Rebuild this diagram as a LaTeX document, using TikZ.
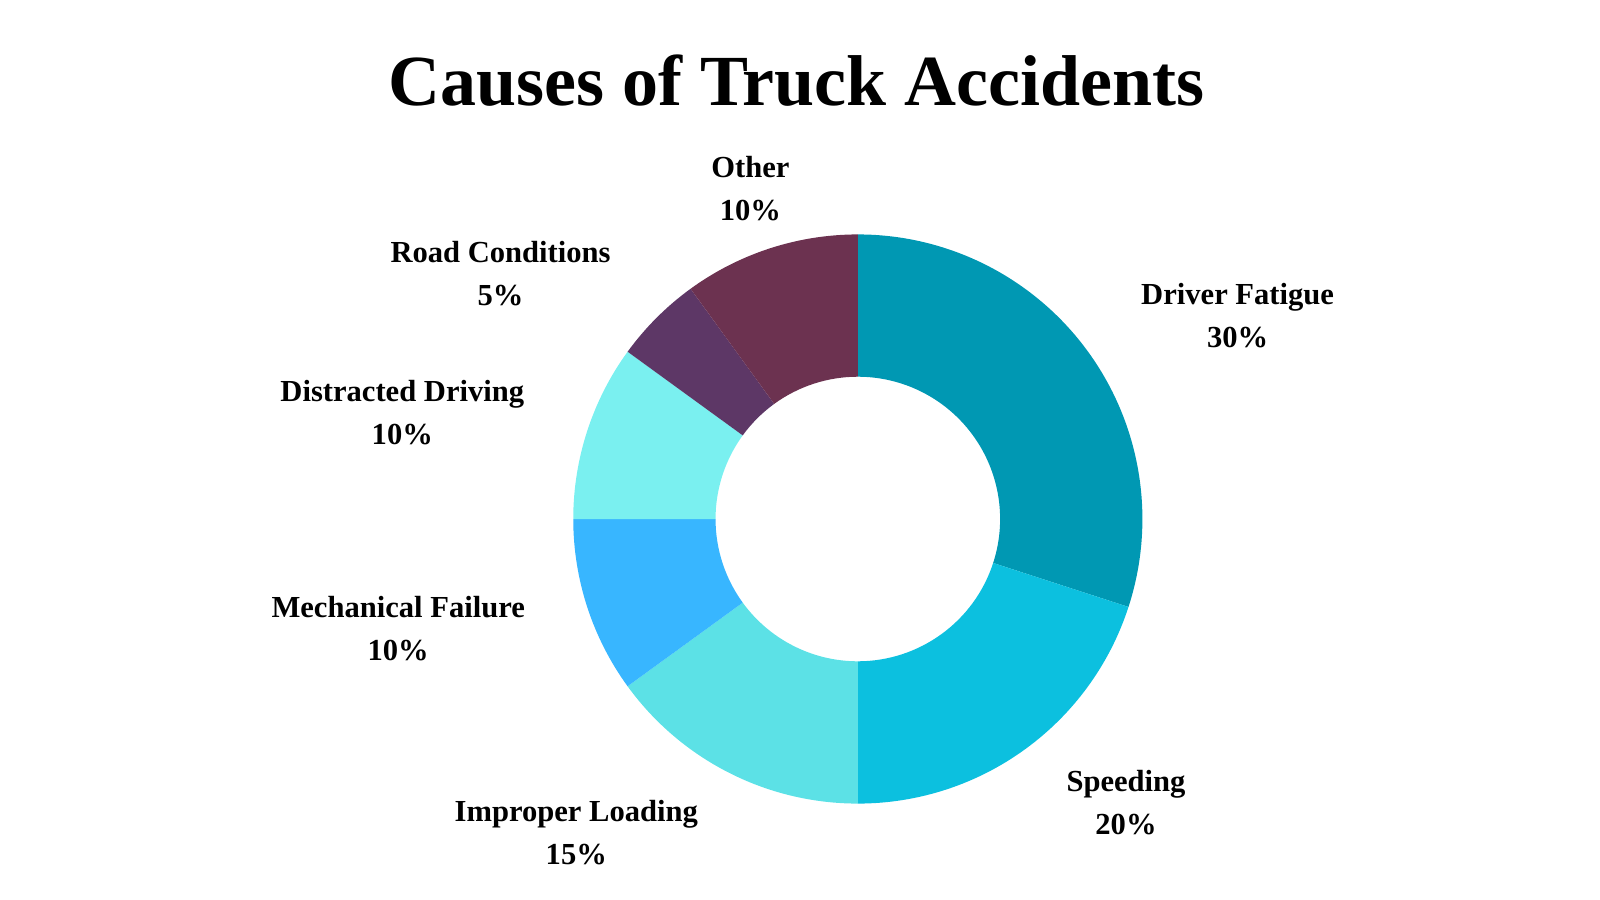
\documentclass[tikz,border=0pt]{standalone}
\usepackage{fontspec}
\setmainfont{Liberation Serif}
\usepackage{xcolor}
\usepackage{tikz}
\usetikzlibrary{positioning}
\definecolor{fatigue}{HTML}{0098B3}
\definecolor{speeding}{HTML}{0CC0DF}
\definecolor{loading}{HTML}{5CE1E6}
\definecolor{mechanical}{HTML}{38B6FF}
\definecolor{distracted}{HTML}{7AF0F0}
\definecolor{road}{HTML}{5D3766}
\definecolor{other}{HTML}{6C3250}

\begin{document}
\begin{tikzpicture}
  [
    Title/.style={font=\fontsize{20}{24}\selectfont\bfseries, anchor=base},
    Label/.style={font=\fontsize{8.5}{12}\selectfont\bfseries, align=center}
  ]
  \useasboundingbox (0,0) rectangle (15.63,8.79);
  \coordinate (ctr) at (8.38, 3.72);

  % Slices
  \fill[fatigue] ([shift={(90:2.78)}]ctr) arc[start angle=90, end angle=-18, radius=2.78]
    -- ([shift={(-18:1.39)}]ctr) arc[start angle=-18, end angle=90, radius=1.39] -- cycle;
  \fill[speeding] ([shift={(-18:2.78)}]ctr) arc[start angle=-18, end angle=-90, radius=2.78]
    -- ([shift={(-90:1.39)}]ctr) arc[start angle=-90, end angle=-18, radius=1.39] -- cycle;
  \fill[loading] ([shift={(-90:2.78)}]ctr) arc[start angle=-90, end angle=-144, radius=2.78]
    -- ([shift={(-144:1.39)}]ctr) arc[start angle=-144, end angle=-90, radius=1.39] -- cycle;
  \fill[mechanical] ([shift={(-144:2.78)}]ctr) arc[start angle=-144, end angle=-180, radius=2.78]
    -- ([shift={(-180:1.39)}]ctr) arc[start angle=-180, end angle=-144, radius=1.39] -- cycle;
  \fill[distracted] ([shift={(180:2.78)}]ctr) arc[start angle=180, end angle=144, radius=2.78]
    -- ([shift={(144:1.39)}]ctr) arc[start angle=144, end angle=180, radius=1.39] -- cycle;
  \fill[road] ([shift={(144:2.78)}]ctr) arc[start angle=144, end angle=126, radius=2.78]
    -- ([shift={(126:1.39)}]ctr) arc[start angle=126, end angle=144, radius=1.39] -- cycle;
  \fill[other] ([shift={(126:2.78)}]ctr) arc[start angle=126, end angle=90, radius=2.78]
    -- ([shift={(90:1.39)}]ctr) arc[start angle=90, end angle=126, radius=1.39] -- cycle;

  % Nodes
  \node[Title] (title) at (7.78, 7.76) {Causes of Truck Accidents};

  \node[Label] (fatigueLbl) at (12.09, 5.71) {Driver Fatigue\\30\%};
  \node[Label] (speedingLbl) at (11.00, 0.95) {Speeding\\20\%};
  \node[Label] (loadingLbl) at (5.63, 0.66) {Improper Loading\\15\%};
  \node[Label] (mechanicalLbl) at (3.89, 2.65) {Mechanical Failure\\10\%};
  \node[Label] (distractedLbl) at (3.93, 4.76) {Distracted Driving\\10\%};
  \node[Label] (roadLbl) at (4.89, 6.12) {Road Conditions\\5\%};
  \node[Label] (otherLbl) at (7.33, 6.95) {Other\\10\%};

\end{tikzpicture}
\end{document}
